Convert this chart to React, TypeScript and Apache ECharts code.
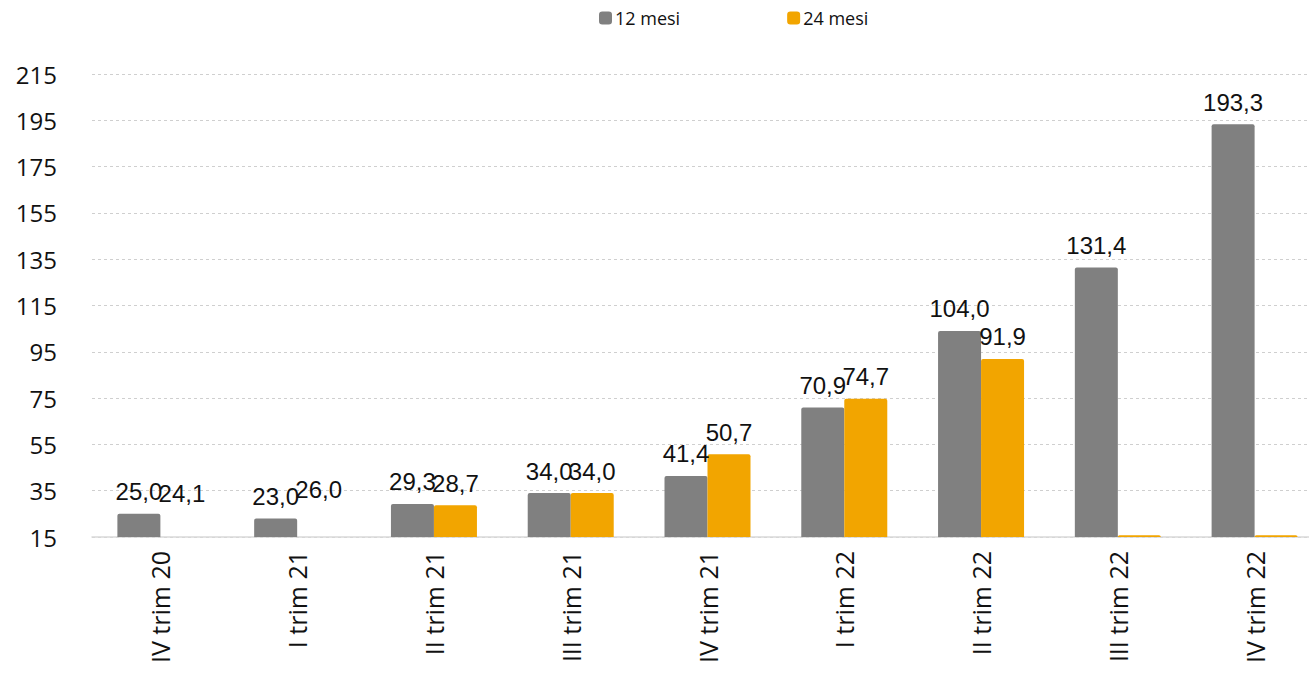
import React, { useEffect, useRef } from "react";
import * as echarts from "echarts";

const categories = [
  "IV trim 20",
  "I trim 21",
  "II trim 21",
  "III trim 21",
  "IV trim 21",
  "I trim 22",
  "II trim 22",
  "III trim 22",
  "IV trim 22",
];
const seriesNames = ["12 mesi", "24 mesi"];
const values12 = [25.0, 23.0, 29.3, 34.0, 41.4, 70.9, 104.0, 131.4, 193.3];
const values24 = [24.1, 26.0, 28.7, 34.0, 50.7, 74.7, 91.9, 15.8, 15.8];
// which 24-month bars are drawn invisibly (label only) and which carry no label
const hidden24Bars = [true, true, false, false, false, false, false, false, false];
const hidden24Labels = [false, false, false, false, false, false, false, true, true];
const yMin = 15;
const yMax = 215;
const yStep = 20;

const GRAY = "#808080";
const ORANGE = "#F2A500";

const fmt = (v: number) => v.toFixed(1).replace(".", ",");

export default function App() {
  const ref = useRef<HTMLDivElement>(null);
  useEffect(() => {
    if (!ref.current) return;
    const chart = echarts.init(ref.current, null, { renderer: "svg" });
    const labelStyle = {
      show: true,
      position: "top" as const,
      distance: 10,
      fontFamily: "Liberation Sans, Arial, sans-serif",
      fontSize: 24,
      color: "#111",
      formatter: (p: any) => fmt(p.value),
    };
    chart.setOption({
      animation: false,
      legend: {
        top: 4,
        left: 594,
        itemWidth: 13,
        itemHeight: 13,
        itemGap: 107,
        icon: "roundRect",
        textStyle: {
          fontFamily: "Open Sans, Noto Sans, sans-serif",
          fontSize: 18,
          color: "#111",
          padding: [0, 0, 0, -2],
        },
        data: seriesNames,
      },
      grid: { left: 92, right: 17, top: 74, bottom: 136, containLabel: false },
      xAxis: {
        type: "category",
        data: categories,
        axisLine: { show: true, lineStyle: { color: "#d9d9d9", width: 1.5 } },
        axisTick: { show: false },
        axisLabel: {
          rotate: 90,
          margin: 14,
          fontFamily: "Open Sans, Noto Sans, sans-serif",
          fontSize: 25,
          color: "#111",
        },
      },
      yAxis: {
        type: "value",
        min: yMin,
        max: yMax,
        interval: yStep,
        axisLine: { show: false },
        axisTick: { show: false },
        splitLine: { lineStyle: { color: "#cfcfcf", type: [3, 3], width: 1 } },
        axisLabel: {
          margin: 35,
          fontFamily: "Open Sans, Noto Sans, sans-serif",
          fontSize: 24,
          color: "#111",
        },
      },
      series: [
        {
          name: seriesNames[0],
          type: "bar",
          data: values12,
          barWidth: 43,
          barGap: "0%",
          itemStyle: { color: GRAY, borderRadius: [2, 2, 0, 0] },
          label: labelStyle,
        },
        {
          name: seriesNames[1],
          type: "bar",
          data: values24.map((v, i) => ({
            value: v,
            itemStyle: hidden24Bars[i] ? { color: "rgba(0,0,0,0)" } : undefined,
            label: hidden24Labels[i] ? { show: false } : undefined,
          })),
          barWidth: 43,
          barGap: "0%",
          itemStyle: { color: ORANGE, borderRadius: [2, 2, 0, 0] },
          label: labelStyle,
        },
      ],
    });
    return () => chart.dispose();
  }, []);
  return (
    <div
      style={{
        position: "fixed",
        left: 0,
        top: 0,
        width: 1309,
        height: 673,
        overflow: "hidden",
        background: "#fff",
      }}
    >
      <div ref={ref} style={{ width: 1340, height: 673 }} />
    </div>
  );
}
